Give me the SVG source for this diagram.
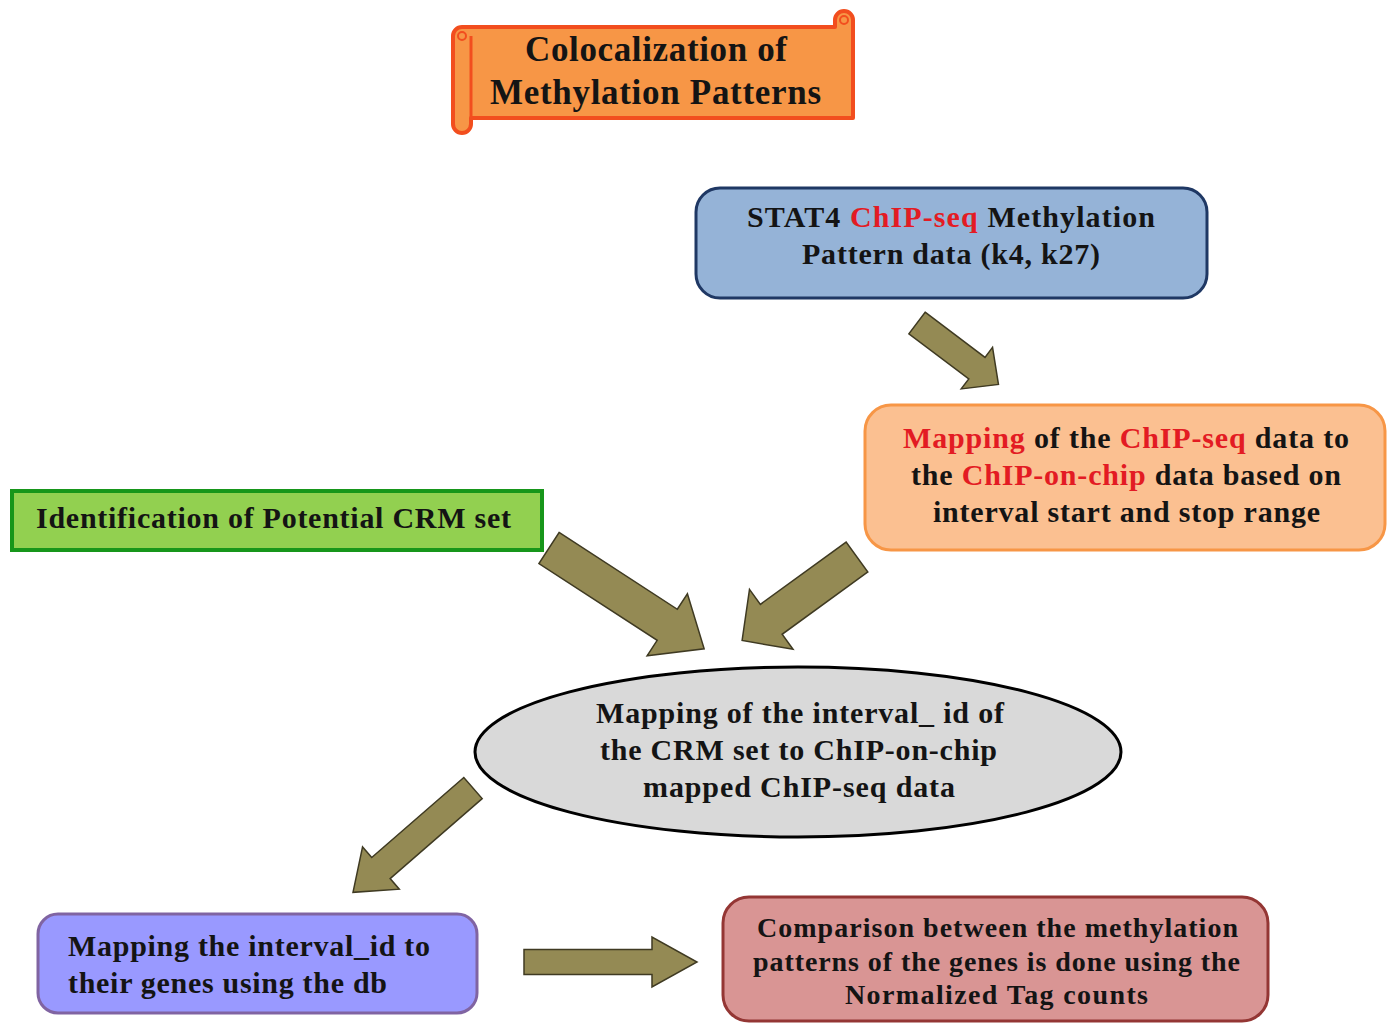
<svg xmlns="http://www.w3.org/2000/svg" width="1390" height="1023" viewBox="0 0 1390 1023">
  <style>
    text { font-family: "Liberation Serif", "Times New Roman", serif; font-weight: bold; fill: #141414; }
    .hl { fill: #E31B23; }
    .arrow { fill: #948A54; stroke: #3F3A22; stroke-width: 1.5; stroke-linejoin: miter; }
  </style>
  <rect width="1390" height="1023" fill="#ffffff"/>

  <!-- title scroll -->
  <g id="title">
    <path d="M462,27 H835 V20 A9,9 0 0 1 853,20 V118 H471 V124 A9,9 0 0 1 453,124 V36 A9,9 0 0 1 462,27 Z" fill="#F79646" stroke="#F24E1E" stroke-width="4" stroke-linejoin="round"/>
    <path d="M471,36 V118" fill="none" stroke="#F24E1E" stroke-width="3"/>
    <circle cx="462" cy="36" r="4" fill="#F79646" stroke="#F24E1E" stroke-width="2"/>
    <circle cx="844" cy="20" r="4" fill="#F79646" stroke="#F24E1E" stroke-width="2"/>
    <text x="525" y="61" font-size="35" textLength="262" lengthAdjust="spacing">Colocalization of</text>
    <text x="490" y="104" font-size="35" textLength="331" lengthAdjust="spacing">Methylation Patterns</text>
  </g>

  <!-- connectors -->
  <g id="connectors">
    <path class="arrow" d="M0,-13.5 H75 V-26 L102,0 L75,26 V13.5 H0 Z" transform="translate(917,323) rotate(37)"/>
    <path class="arrow" d="M0,-18.5 H141 V-37 L185,0 L141,37 V18.5 H0 Z" transform="translate(549,548) rotate(33)"/>
    <path class="arrow" d="M0,-18.5 H106 V-37 L142,0 L106,37 V18.5 H0 Z" transform="translate(857,557) rotate(144)"/>
    <path class="arrow" d="M0,-14 H122 V-28 L159,0 L122,28 V14 H0 Z" transform="translate(473,788) rotate(139)"/>
    <path class="arrow" d="M0,-12.5 H128 V-25 L173,0 L128,25 V12.5 H0 Z" transform="translate(524,962)"/>
  </g>

  <!-- STAT4 ChIP-seq input -->
  <g id="stat4-data">
    <rect x="696" y="188" width="511" height="110" rx="24" fill="#95B3D7" stroke="#1F3864" stroke-width="3"/>
    <text x="747" y="227" font-size="30" textLength="408" lengthAdjust="spacing">STAT4 <tspan class="hl">ChIP-seq</tspan> Methylation</text>
    <text x="802" y="264" font-size="30" textLength="298" lengthAdjust="spacing">Pattern data (k4, k27)</text>
  </g>

  <!-- ChIP-seq to ChIP-on-chip mapping -->
  <g id="chipseq-mapping">
    <rect x="865" y="405" width="520" height="145" rx="26" fill="#FBC091" stroke="#F79646" stroke-width="3"/>
    <text x="903" y="448" font-size="30" textLength="446" lengthAdjust="spacing"><tspan class="hl">Mapping</tspan> of the <tspan class="hl">ChIP-seq</tspan> data to</text>
    <text x="911" y="485" font-size="30" textLength="430" lengthAdjust="spacing">the <tspan class="hl">ChIP-on-chip</tspan> data based on</text>
    <text x="933" y="522" font-size="30" textLength="387" lengthAdjust="spacing">interval start and stop range</text>
  </g>

  <!-- CRM set -->
  <g id="crm-set">
    <rect x="12" y="491" width="530" height="59" fill="#92D050" stroke="#17961A" stroke-width="4"/>
    <text x="36" y="528" font-size="30" textLength="475" lengthAdjust="spacing">Identification of Potential CRM set</text>
  </g>

  <!-- interval id mapping -->
  <g id="interval-mapping">
    <ellipse cx="798" cy="752" rx="323" ry="85" fill="#D9D9D9" stroke="#000000" stroke-width="3"/>
    <text x="596" y="723" font-size="30" textLength="408" lengthAdjust="spacing">Mapping of the interval_ id of</text>
    <text x="600" y="760" font-size="30" textLength="397" lengthAdjust="spacing">the CRM set to ChIP-on-chip</text>
    <text x="643" y="797" font-size="30" textLength="312" lengthAdjust="spacing">mapped ChIP-seq data</text>
  </g>

  <!-- gene mapping -->
  <g id="gene-mapping">
    <rect x="38" y="914" width="439" height="99" rx="20" fill="#9999FF" stroke="#8064A2" stroke-width="3"/>
    <text x="68" y="956" font-size="30" textLength="362" lengthAdjust="spacing">Mapping the interval_id to</text>
    <text x="68" y="993" font-size="30" textLength="319" lengthAdjust="spacing">their genes using the db</text>
  </g>

  <!-- comparison -->
  <g id="comparison">
    <rect x="723" y="897" width="545" height="124" rx="26" fill="#D99594" stroke="#943634" stroke-width="3"/>
    <text x="757" y="937" font-size="28" textLength="481" lengthAdjust="spacing">Comparison between the methylation</text>
    <text x="753" y="971" font-size="28" textLength="487" lengthAdjust="spacing">patterns of the genes is done using the</text>
    <text x="845" y="1004" font-size="28" textLength="303" lengthAdjust="spacing">Normalized Tag counts</text>
  </g>
</svg>
